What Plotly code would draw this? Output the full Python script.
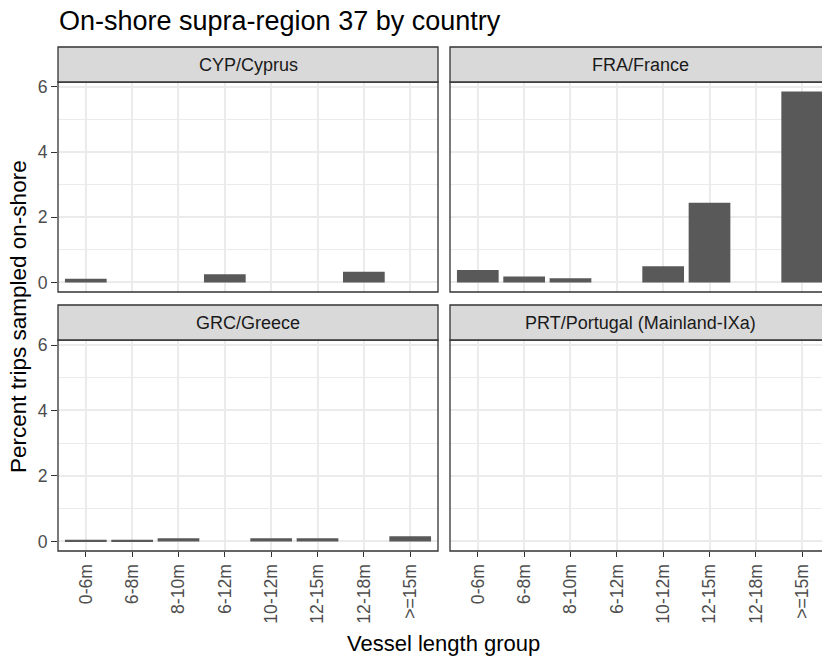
import plotly.graph_objects as go

# ---- data ----
categories = ["0-6m", "6-8m", "8-10m", "6-12m", "10-12m", "12-15m", "12-18m", ">=15m"]
cyp_values = [0.11, None, None, 0.25, None, None, 0.33, None]
fra_values = [0.38, 0.18, 0.13, None, 0.50, 2.45, None, 5.86]
grc_values = [0.05, 0.05, 0.10, None, 0.10, 0.10, None, 0.16]
prt_values = [None, None, None, None, None, None, None, None]
panel_titles = ["CYP/Cyprus", "FRA/France", "GRC/Greece", "PRT/Portugal (Mainland-IXa)"]
y_ticks = [0, 2, 4, 6]
y_minor = [1, 3, 5]

W, H = 822, 659
ML, MR, MT, MB = 58, 0, 47, 108
PW = W - ML - MR
PH = H - MT - MB


def px_x(p):
    return (p - ML) / PW


def px_y(p):
    return (H - MB - p) / PH


FONT = "Liberation Sans, Arial, sans-serif"
BAR = "#595959"
GRID = "#EBEBEB"
BORDER = "#333333"

# panel pixel boxes
cols = [(58, 438), (450, 830)]
rows = [(47, 82, 292), (305, 340, 551)]

ymax = max(v for v in fra_values if v is not None)
yr = [-0.05 * ymax, ymax * 1.05]
unit_px = (cols[0][1] - cols[0][0]) / 8.2  # px per category unit
right_vis = (W - cols[1][0]) / unit_px

fig = go.Figure()
series = [cyp_values, fra_values, grc_values, prt_values]
shapes = []
annotations = []

for i, vals in enumerate(series):
    r, c = divmod(i, 2)
    xa = "x" if i == 0 else f"x{i+1}"
    ya = "y" if i == 0 else f"y{i+1}"
    fig.add_trace(go.Bar(x=categories, y=vals, xaxis=xa, yaxis=ya,
                         marker=dict(color=BAR, line=dict(width=0)),
                         width=0.9, showlegend=False, hoverinfo="x+y"))
    x0, x1 = cols[c]
    st, pt, pb = rows[r]
    dom_x = [max(0, px_x(x0)), min(1, px_x(x1))]
    dom_y = [px_y(pb), px_y(pt)]
    xrange = [-0.6, 7.6] if c == 0 else [-0.6, -0.6 + right_vis]
    bottom = (r == 1)
    left = (c == 0)
    xkey = "xaxis" if i == 0 else f"xaxis{i+1}"
    ykey = "yaxis" if i == 0 else f"yaxis{i+1}"
    fig.layout[xkey] = dict(
        domain=dom_x, anchor=ya, type="category",
        categoryorder="array", categoryarray=categories,
        range=xrange, showgrid=True, gridcolor=GRID, gridwidth=1.8,
        zeroline=False, showline=False,
        ticks="outside" if bottom else "", ticklen=5, tickwidth=1.2, tickcolor=BORDER,
        showticklabels=bottom, tickangle=-90,
        tickfont=dict(family=FONT, size=17.6, color="#4D4D4D"),
        fixedrange=True,
    )
    fig.layout[ykey] = dict(
        domain=dom_y, anchor=xa, range=yr,
        tickmode="array", tickvals=y_ticks,
        showgrid=True, gridcolor=GRID, gridwidth=1.8,
        minor=dict(tickmode="array", tickvals=y_minor, showgrid=True,
                   gridcolor=GRID, gridwidth=0.9, ticks=""),
        zeroline=False, showline=False,
        ticks="outside" if left else "", ticklen=6, tickwidth=1.2, tickcolor=BORDER,
        showticklabels=left,
        tickfont=dict(family=FONT, size=17.6, color="#4D4D4D"),
        fixedrange=True,
    )
    shapes.append(dict(type="rect", xref="paper", yref="paper",
                       x0=px_x(x0), x1=px_x(x1), y0=px_y(pb), y1=px_y(pt),
                       line=dict(color=BORDER, width=1.3), fillcolor="rgba(0,0,0,0)",
                       layer="above"))
    shapes.append(dict(type="rect", xref="paper", yref="paper",
                       x0=px_x(x0), x1=px_x(x1), y0=px_y(pt), y1=px_y(st),
                       line=dict(color=BORDER, width=1.3), fillcolor="#D9D9D9",
                       layer="above"))
    annotations.append(dict(text=panel_titles[i], xref="paper", yref="paper",
                            x=px_x((x0 + x1) / 2), y=px_y((st + pt) / 2),
                            xanchor="center", yanchor="middle", showarrow=False,
                            font=dict(family=FONT, size=18, color="#1A1A1A")))

annotations.append(dict(text="On-shore supra-region 37 by country", xref="paper", yref="paper",
                        x=px_x(57), y=px_y(21), xanchor="left", yanchor="middle",
                        showarrow=False, font=dict(family=FONT, size=27, color="#000000")))
annotations.append(dict(text="Vessel length group", xref="paper", yref="paper",
                        x=px_x(444), y=px_y(643), xanchor="center", yanchor="middle",
                        showarrow=False, font=dict(family=FONT, size=22, color="#000000")))
annotations.append(dict(text="Percent trips sampled on-shore", xref="paper", yref="paper",
                        x=px_x(18), y=px_y(317), xanchor="center", yanchor="middle",
                        textangle=-90, showarrow=False,
                        font=dict(family=FONT, size=22.5, color="#000000")))

fig.update_layout(
    width=W, height=H,
    margin=dict(l=ML, r=MR, t=MT, b=MB, pad=0),
    paper_bgcolor="white", plot_bgcolor="white",
    shapes=shapes, annotations=annotations,
    bargap=0.1, showlegend=False,
)

fig.write_html("out.html", config={"displayModeBar": False},
               post_script="document.body.style.margin='0';document.body.style.overflow='hidden';")
